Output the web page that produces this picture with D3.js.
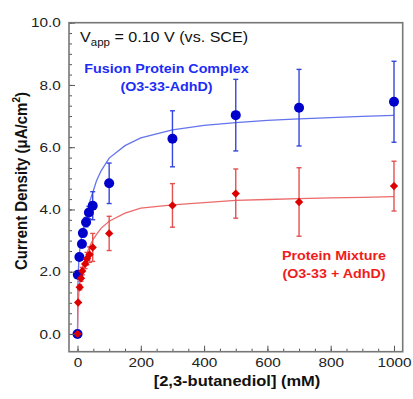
<!DOCTYPE html>
<html lang="en">
<head>
<meta charset="utf-8">
<title>Current density vs 2,3-butanediol</title>
<script src="https://cdnjs.cloudflare.com/ajax/libs/d3/7.8.5/d3.min.js"></script>
<style>
  body { margin: 0; background: #fff; }
  svg { display: block; font-family: Arial, "Liberation Sans", sans-serif; }
</style>
</head>
<body>
<div id="chart"></div>
<script>
// fusion protein complex (O3-33-AdhD)
const fusionConc = [0, 1, 6, 14, 17, 27, 36, 48, 100, 300, 500, 700, 1000];
const fusionJ    = [0, 1.90, 2.47, 2.89, 3.24, 3.59, 3.90, 4.12, 4.84, 6.27, 7.03, 7.27, 7.46];
const fusionErr  = [0, 0.05, 0.08, 0.1, 0.12, 0.15, 0.2, 0.45, 0.65, 0.9, 1.15, 1.23, 1.3];

// protein mixture (O3-33 + AdhD)
const mixConc = [0, 2, 7, 11, 15, 24, 30, 38, 48, 100, 300, 500, 700, 1000];
const mixJ    = [0, 1.01, 1.50, 1.79, 2.02, 2.25, 2.42, 2.55, 2.78, 3.23, 4.13, 4.51, 4.24, 4.75];
const mixErr  = [0, 0.05, 0.08, 0.1, 0.12, 0.15, 0.2, 0.25, 0.45, 0.55, 0.7, 0.79, 1.1, 0.8];

// fitted curves
const fitConc    = [0, 1, 2, 5, 10, 15, 20, 30, 40, 50, 60, 75, 100, 150, 200, 300, 400, 500, 600, 700, 800, 900, 1000];
const fusionFitJ = [0, 1.3, 1.9, 2.5, 2.95, 3.25, 3.5, 3.9, 4.3, 4.6, 4.92, 5.25, 5.65, 6.05, 6.3, 6.56, 6.7, 6.79, 6.86, 6.91, 6.95, 6.99, 7.02];
const mixFitJ    = [0, 0.6, 1.0, 1.45, 1.85, 2.1, 2.3, 2.6, 2.85, 3.05, 3.2, 3.4, 3.62, 3.88, 4.04, 4.15, 4.22, 4.29, 4.32, 4.35, 4.37, 4.39, 4.41];

const xTicks = [0, 200, 400, 600, 800, 1000];
const yTicks = [0, 2, 4, 6, 8, 10];

const W = 413, H = 399;
const mLeft = 69, mRight = 402.7, mTop = 22.7, mBottom = 351.7;

const x = d3.scaleLinear().domain([-26.9, 1027.5]).range([mLeft, mRight]);
const y = d3.scaleLinear().domain([-0.57, 10]).range([mBottom, mTop]);

const svg = d3.select("#chart").append("svg")
  .attr("width", W).attr("height", H);

const blueDot = "#0000cc", blueLine = "#6474ec", blueBar = "#3446dc";
const redDot = "#dd0000", redLine = "#ec6a6a", redBar = "#e45050";

// fit curves
const line = d3.line().x(d => x(d[0])).y(d => y(d[1]));
svg.append("path")
  .attr("d", line(fitConc.map((c, i) => [c, fusionFitJ[i]])))
  .attr("fill", "none").attr("stroke", blueLine).attr("stroke-width", 1.3);
svg.append("path")
  .attr("d", line(fitConc.map((c, i) => [c, mixFitJ[i]])))
  .attr("fill", "none").attr("stroke", redLine).attr("stroke-width", 1.3);

function errorBars(conc, vals, errs, color) {
  const g = svg.append("g").attr("stroke", color).attr("stroke-width", 1.4);
  conc.forEach((c, i) => {
    if (errs[i] <= 0.06) return;
    const cx = x(c), y1 = y(vals[i] + errs[i]), y2 = y(vals[i] - errs[i]);
    g.append("line").attr("x1", cx).attr("x2", cx).attr("y1", y1).attr("y2", y2);
    g.append("line").attr("x1", cx - 2.5).attr("x2", cx + 2.5).attr("y1", y1).attr("y2", y1);
    g.append("line").attr("x1", cx - 2.5).attr("x2", cx + 2.5).attr("y1", y2).attr("y2", y2);
  });
}
errorBars(fusionConc, fusionJ, fusionErr, blueBar);
errorBars(mixConc, mixJ, mixErr, redBar);

// markers
svg.append("g").selectAll("circle")
  .data(fusionConc.map((c, i) => [c, fusionJ[i]]))
  .join("circle")
  .attr("cx", d => x(d[0])).attr("cy", d => y(d[1]))
  .attr("r", 5).attr("fill", blueDot);

svg.append("g").selectAll("path")
  .data(mixConc.map((c, i) => [c, mixJ[i]]))
  .join("path")
  .attr("d", d3.symbol(d3.symbolDiamond2, 44))
  .attr("transform", d => `translate(${x(d[0])},${y(d[1])})`)
  .attr("fill", redDot);

// axes, ticks pointing inward
const stretch = "scale(1.18,1)";
const xAxis = svg.append("g")
  .attr("transform", `translate(0,${mBottom})`)
  .call(d3.axisBottom(x).tickValues(d3.range(0, 1001, 50)).tickSize(-3).tickFormat(""));
xAxis.call(g => g.select(".domain").remove());
const xMajor = svg.append("g")
  .attr("transform", `translate(0,${mBottom})`)
  .call(d3.axisBottom(x).tickValues(xTicks).tickSize(-6).tickPadding(6).tickFormat(d3.format("d")));
xMajor.select(".domain").remove();
xMajor.selectAll("text").attr("font-size", 13).attr("fill", "#222").attr("transform", stretch);

const yAxis = svg.append("g")
  .attr("transform", `translate(${mLeft},0)`)
  .call(d3.axisLeft(y).tickValues(d3.range(0, 10.01, 1 / 3)).tickSize(-3).tickFormat(""));
yAxis.select(".domain").remove();
const yMajor = svg.append("g")
  .attr("transform", `translate(${mLeft},0)`)
  .call(d3.axisLeft(y).tickValues(yTicks).tickSize(-6).tickPadding(7).tickFormat(d3.format(".1f")));
yMajor.select(".domain").remove();
yMajor.selectAll("text").attr("font-size", 13).attr("fill", "#222").attr("transform", stretch);

svg.selectAll(".tick line").attr("stroke", "#555").attr("stroke-width", 1);

// frame
svg.append("rect")
  .attr("x", mLeft).attr("y", mTop)
  .attr("width", mRight - mLeft).attr("height", mBottom - mTop)
  .attr("fill", "none").attr("stroke", "#777").attr("stroke-width", 1.6);

// axis titles
svg.append("text")
  .attr("transform", `translate(237,386) scale(1.1,1)`)
  .attr("text-anchor", "middle")
  .attr("font-size", 15).attr("font-weight", "bold").attr("fill", "#111")
  .text("[2,3-butanediol] (mM)");

const yTitle = svg.append("text")
  .attr("transform", `translate(27,181) rotate(-90) scale(1,1.12)`)
  .attr("text-anchor", "middle")
  .attr("font-size", 15).attr("font-weight", "bold").attr("fill", "#111");
yTitle.append("tspan").text("Current Density (μA/cm");
yTitle.append("tspan").attr("font-size", 10).attr("dy", -6).text("2");
yTitle.append("tspan").attr("dy", 6).text(")");

// annotations
const vapp = svg.append("text")
  .attr("transform", `translate(80,42) scale(1.15,1)`)
  .attr("font-size", 14).attr("fill", "#111");
vapp.append("tspan").text("V");
vapp.append("tspan").attr("font-size", 10).attr("dy", 4).text("app");
vapp.append("tspan").attr("dy", -4).text(" = 0.10 V (vs. SCE)");

svg.append("text")
  .attr("transform", `translate(166.5,73) scale(1.1,1)`)
  .attr("text-anchor", "middle").attr("font-size", 13).attr("font-weight", "bold")
  .attr("fill", "#1c2cf6").text("Fusion Protein Complex");
svg.append("text")
  .attr("transform", `translate(166.5,91) scale(1.1,1)`)
  .attr("text-anchor", "middle").attr("font-size", 13).attr("font-weight", "bold")
  .attr("fill", "#1c2cf6").text("(O3-33-AdhD)");

svg.append("text")
  .attr("transform", `translate(334,260) scale(1.1,1)`)
  .attr("text-anchor", "middle").attr("font-size", 13).attr("font-weight", "bold")
  .attr("fill", "#f01c1c").text("Protein Mixture");
svg.append("text")
  .attr("transform", `translate(334,278) scale(1.1,1)`)
  .attr("text-anchor", "middle").attr("font-size", 13).attr("font-weight", "bold")
  .attr("fill", "#f01c1c").text("(O3-33 + AdhD)");
</script>
</body>
</html>
